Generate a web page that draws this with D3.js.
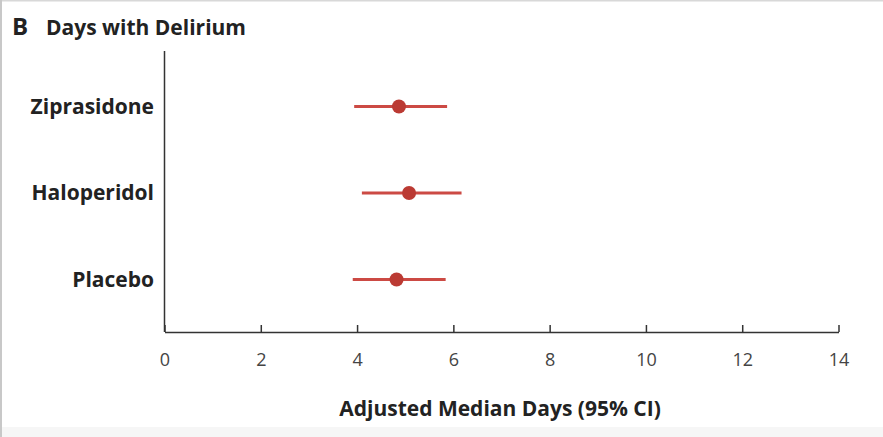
<!DOCTYPE html>
<html>
<head>
<meta charset="utf-8">
<script src="https://cdn.jsdelivr.net/npm/d3@7"></script>
<style>
    body { margin: 0; background: #fff; }
    svg text { font-family: "Open Sans", "Lato", sans-serif; }
</style>
</head>
<body>
<svg id="chart" width="883" height="437"></svg>
<script>
// values
let groups = ["Ziprasidone", "Haloperidol", "Placebo"];
let medians = [4.87, 5.08, 4.82];
let lower = [3.94, 4.10, 3.91];
let upper = [5.87, 6.17, 5.84];
let xTicks = [0, 2, 4, 6, 8, 10, 12, 14];

let svg = d3.select("#chart");

// frame
svg.append("rect").attr("x", 0).attr("y", 0).attr("width", 883).attr("height", 437).attr("fill", "#fff");
svg.append("rect").attr("x", 0).attr("y", 427).attr("width", 883).attr("height", 10).attr("fill", "#f6f6f6");
svg.append("line").attr("x1", 0).attr("x2", 883).attr("y1", 0.5).attr("y2", 0.5).style("stroke", "#d8d8d8").style("stroke-width", 2);
svg.append("line").attr("x1", 1).attr("x2", 1).attr("y1", 0).attr("y2", 437).style("stroke", "#c8c8c8").style("stroke-width", 2);

// title
svg.append("text").attr("x", 12).attr("y", 35).text("B")
    .style("font-size", "24px").style("font-weight", "bold").style("fill", "#222");
svg.append("text").attr("x", 46).attr("y", 35).text("Days with Delirium")
    .style("font-size", "21px").style("font-weight", "bold").style("fill", "#222");

let x = d3.scaleLinear().domain([0, 14]).range([164.5, 838.5]);
let y = d3.scalePoint().domain(groups).range([106.5, 279.5]);

// y axis line
svg.append("line")
    .attr("x1", x(0)).attr("x2", x(0))
    .attr("y1", 51).attr("y2", 332)
    .style("stroke", "#333").style("stroke-width", 1.5);

// x axis
let xAxis = svg.append("g")
    .attr("transform", "translate(0,332)")
    .attr("font-size", 19)
    .call(d3.axisBottom(x).tickValues(xTicks).tickSize(7).tickSizeOuter(0));
xAxis.select(".domain").style("stroke", "#333").style("stroke-width", 1.5);
xAxis.selectAll(".tick line").attr("y1", -7).attr("y2", 0).style("stroke", "#333").style("stroke-width", 1.5);
xAxis.selectAll(".tick text")
    .attr("y", 21)
    .style("font-size", "18px").style("fill", "#444");

svg.append("text")
    .attr("x", 500).attr("y", 416)
    .attr("text-anchor", "middle")
    .text("Adjusted Median Days (95% CI)")
    .style("font-size", "21px").style("font-weight", "bold").style("fill", "#222");

// category labels
svg.selectAll(".group-label")
    .data(groups)
    .enter()
    .append("text")
    .attr("class", "group-label")
    .attr("x", 154)
    .attr("y", d => y(d) + 7)
    .attr("text-anchor", "end")
    .text(d => d)
    .style("font-size", "21px").style("font-weight", "bold").style("fill", "#222");

// CI lines and points
svg.selectAll(".ci")
    .data(groups)
    .enter()
    .append("line")
    .attr("class", "ci")
    .attr("x1", (d, i) => x(lower[i]))
    .attr("x2", (d, i) => x(upper[i]))
    .attr("y1", d => y(d))
    .attr("y2", d => y(d))
    .style("stroke", "#cc4a44")
    .style("stroke-width", 3);

svg.selectAll(".pt")
    .data(groups)
    .enter()
    .append("circle")
    .attr("class", "pt")
    .attr("cx", (d, i) => x(medians[i]))
    .attr("cy", d => y(d))
    .attr("r", 7)
    .style("fill", "#bb3a33");
</script>
</body>
</html>
